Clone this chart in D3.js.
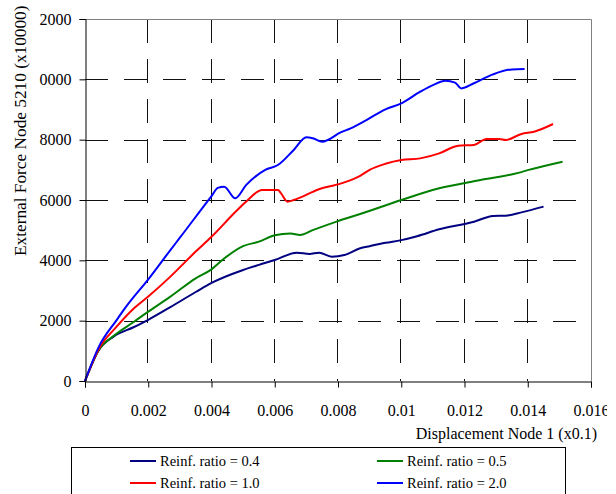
<!DOCTYPE html>
<html>
<head>
<meta charset="utf-8">
<script src="https://cdn.jsdelivr.net/npm/d3@7"></script>
<style>
  body { margin: 0; background: #fff; }
  svg { display: block; font-family: "Liberation Serif", "Times New Roman", serif; }
</style>
</head>
<body>
<svg id="chart" width="616" height="494"></svg>
<script>
// data
const disp04 = [0, 0.00044, 0.0009, 0.00155, 0.002, 0.0027, 0.0035, 0.004, 0.005, 0.0055, 0.006, 0.0067, 0.0071, 0.0074, 0.0078, 0.0082, 0.0087, 0.009, 0.0095, 0.01, 0.0105, 0.0112, 0.0123, 0.0129, 0.0133, 0.0138, 0.0145];
const force04 = [0, 1030, 1470, 1790, 2030, 2450, 2950, 3250, 3680, 3850, 4010, 4255, 4210, 4255, 4120, 4175, 4400, 4470, 4580, 4670, 4800, 5030, 5280, 5470, 5480, 5590, 5780];

const disp05 = [0, 0.00044, 0.0009, 0.00155, 0.002, 0.0027, 0.0035, 0.004, 0.0044, 0.005, 0.0055, 0.006, 0.0065, 0.0068, 0.0072, 0.008, 0.0087, 0.01, 0.0112, 0.0125, 0.0137, 0.014, 0.0151];
const force05 = [0, 1040, 1490, 1965, 2300, 2795, 3405, 3700, 4060, 4470, 4620, 4830, 4890, 4840, 5000, 5300, 5535, 6000, 6390, 6660, 6900, 6990, 7270];

const disp10 = [0, 0.00044, 0.001, 0.00155, 0.002, 0.0027, 0.0035, 0.004, 0.0048, 0.0051, 0.0056, 0.0061, 0.0062, 0.0064, 0.0066, 0.0074, 0.0081, 0.0087, 0.009, 0.0095, 0.01, 0.0106, 0.0112, 0.0118, 0.0123, 0.0127, 0.0131, 0.0133, 0.0138, 0.0142, 0.0148];
const force10 = [0, 1070, 1800, 2410, 2800, 3460, 4290, 4780, 5650, 5950, 6330, 6330, 6220, 5945, 6000, 6355, 6550, 6800, 7000, 7200, 7325, 7380, 7545, 7800, 7825, 8025, 8025, 7990, 8190, 8265, 8520];

const disp20 = [0, 0.00044, 0.001, 0.0013, 0.002, 0.0027, 0.003, 0.004, 0.0042, 0.0044, 0.00475, 0.0051, 0.0057, 0.0061, 0.0066, 0.007, 0.0072, 0.0075, 0.0081, 0.0084, 0.0089, 0.0095, 0.01, 0.0106, 0.011, 0.0114, 0.0117, 0.0119, 0.0123, 0.0129, 0.0135, 0.0139];
const force20 = [0, 1140, 2020, 2465, 3370, 4340, 4750, 6130, 6400, 6440, 6055, 6500, 7000, 7160, 7660, 8080, 8050, 7935, 8250, 8375, 8650, 9005, 9205, 9590, 9810, 9955, 9890, 9700, 9870, 10165, 10330, 10340];

const seriesNames = ["Reinf. ratio = 0.4", "Reinf. ratio = 0.5", "Reinf. ratio = 1.0", "Reinf. ratio = 2.0"];
const seriesColors = ["#000080", "#008000", "#ff0000", "#0000ff"];

const xTicks = [0, 0.002, 0.004, 0.006, 0.008, 0.01, 0.012, 0.014, 0.016];
const xTickLabels = ["0", "0.002", "0.004", "0.006", "0.008", "0.01", "0.012", "0.014", "0.016"];
const yTicks = [0, 2000, 4000, 6000, 8000, 10000, 12000];

const series = [
  { name: seriesNames[0], color: seriesColors[0], xs: disp04, ys: force04 },
  { name: seriesNames[1], color: seriesColors[1], xs: disp05, ys: force05 },
  { name: seriesNames[2], color: seriesColors[2], xs: disp10, ys: force10 },
  { name: seriesNames[3], color: seriesColors[3], xs: disp20, ys: force20 }
];

const plotLeft = 85, plotRight = 591, plotTop = 19, plotBottom = 381;

const svg = d3.select("#chart");

// clip labels at the chart area edges like the original does
const defs = svg.append("defs");
defs.append("clipPath").attr("id", "area")
  .append("rect").attr("x", 39).attr("y", 3).attr("width", 568).attr("height", 491);
defs.append("clipPath").attr("id", "titleclip")
  .append("rect").attr("x", 0).attr("y", 2).attr("width", 616).attr("height", 492);

const x = d3.scaleLinear().domain([0, 0.016]).range([plotLeft, plotRight]);
const y = d3.scaleLinear().domain([0, 12000]).range([plotBottom, plotTop]);

// grid
const grid = svg.append("g");
grid.selectAll(".hg")
  .data(yTicks.filter(d => d > 0 && d < 12000))
  .enter().append("line")
  .attr("x1", plotLeft).attr("x2", plotRight)
  .attr("y1", d => Math.round(y(d)) + 0.5).attr("y2", d => Math.round(y(d)) + 0.5)
  .attr("stroke", "#111").attr("stroke-dasharray", "23,16");
grid.selectAll(".vg")
  .data(xTicks.filter(d => d > 0 && d < 0.016))
  .enter().append("line")
  .attr("x1", d => Math.round(x(d)) - 0.5).attr("x2", d => Math.round(x(d)) - 0.5)
  .attr("y1", plotTop).attr("y2", plotBottom)
  .attr("stroke", "#111").attr("stroke-dasharray", "24,16");

// top and right border
svg.append("path")
  .attr("d", `M${plotLeft},${plotTop + 0.5}H${plotRight + 0.5}V${plotBottom}`)
  .attr("fill", "none").attr("stroke", "#808080");

// curves
const line = d3.line()
  .x(d => x(d[0]))
  .y(d => y(d[1]))
  .curve(d3.curveMonotoneX);

svg.append("g").selectAll("path")
  .data(series)
  .enter().append("path")
  .attr("d", s => line(s.xs.map((v, i) => [v, s.ys[i]])))
  .attr("fill", "none")
  .attr("stroke", s => s.color)
  .attr("stroke-width", 2)
  .attr("stroke-linejoin", "round");

// axes
const axes = svg.append("g").attr("clip-path", "url(#area)");

const yAxis = axes.append("g")
  .attr("transform", `translate(${plotLeft + 0.5},0)`)
  .call(d3.axisLeft(y).tickValues(yTicks).tickFormat(d3.format("d")).tickSize(6).tickPadding(8));

const xAxis = axes.append("g")
  .attr("transform", `translate(0,${plotBottom + 0.5})`)
  .call(d3.axisBottom(x).tickValues(xTicks).tickFormat((d, i) => xTickLabels[i]).tickSize(6).tickPadding(17));

[yAxis, xAxis].forEach(a => {
  a.attr("font-family", null).attr("font-size", 16);
  a.select(".domain").attr("stroke", "#000");
  a.selectAll(".tick line").attr("stroke", "#000");
  a.selectAll("text").attr("fill", "#000");
});

// axis titles
svg.append("g")
  .attr("clip-path", "url(#titleclip)")
  .append("text")
  .attr("transform", "translate(26,256) rotate(-90)")
  .attr("font-size", 17.3)
  .text("External Force Node 5210 (x10000)");

svg.append("text")
  .attr("x", 597).attr("y", 439)
  .attr("text-anchor", "end")
  .attr("font-size", 16)
  .text("Displacement Node 1 (x0.1)");

// legend
const legend = svg.append("g");
legend.append("rect")
  .attr("x", 71.5).attr("y", 447.5)
  .attr("width", 494).attr("height", 60)
  .attr("fill", "none").attr("stroke", "#000");

const legendPos = [[130, 461], [377, 461], [130, 483], [377, 483]];
const items = legend.selectAll(".item")
  .data(series)
  .enter().append("g")
  .attr("transform", (d, i) => `translate(${legendPos[i][0]},${legendPos[i][1]})`);
items.append("line")
  .attr("x1", 0).attr("x2", 26)
  .attr("stroke", d => d.color).attr("stroke-width", 2);
items.append("text")
  .attr("x", 30).attr("dy", "0.35em")
  .attr("font-size", 14.5)
  .text(d => d.name);
</script>
</body>
</html>
